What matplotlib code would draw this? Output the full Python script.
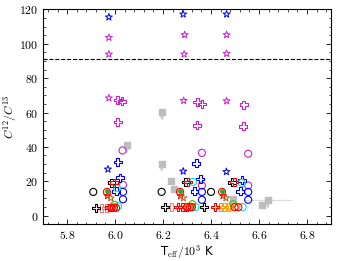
# C12/C13 ratio against effective temperature

import numpy as np
import matplotlib.pyplot as plt
from matplotlib.ticker import MultipleLocator, FuncFormatter

plt.rcParams['mathtext.fontset'] = 'cm'
plt.rcParams['font.size'] = 7

# data
blue_star_x = [5.974, 6.284, 6.465, 5.970, 6.284, 6.464]
blue_star_y = [115.5, 117.2, 117.2, 27.0, 25.8, 25.5]

mag_star_x = [5.974, 5.974, 6.290, 6.288, 6.465, 6.465, 5.974, 6.286, 6.465]
mag_star_y = [103.6, 93.9, 105.2, 93.9, 105.2, 94.3, 68.4, 66.9, 66.7]

mag_plus_x = [6.011, 6.029, 6.343, 6.362, 6.536, 6.011, 6.342, 6.535]
mag_plus_y = [67.3, 66.5, 66.1, 64.9, 64.5, 54.4, 52.5, 51.9]

mag_circ_x = [6.031, 6.033, 6.362, 6.362, 6.555, 6.555]
mag_circ_y = [37.9, 17.9, 36.5, 17.5, 36.0, 17.5]

blue_plus_x = [6.011, 6.020, 6.005, 6.339, 6.355, 6.331, 6.529, 6.522]
blue_plus_y = [31.1, 22.0, 14.2, 30.5, 21.4, 14.2, 20.6, 14.2]

blue_circ_x = [6.033, 6.033, 6.362, 6.362, 6.555, 6.555]
blue_circ_y = [13.8, 9.5, 13.8, 9.2, 13.8, 9.2]

cyan_circ_x = [6.008, 6.012, 6.325, 6.335, 6.528, 6.532]
cyan_circ_y = [16.0, 5.5, 19.6, 5.0, 19.0, 5.0]

black_circ_x = [5.909, 6.194, 6.400]
black_circ_y = [13.8, 13.8, 13.8]

black_plus_x = [5.985, 6.294, 6.487, 5.920, 6.208, 6.371]
black_plus_y = [19.1, 19.6, 19.4, 4.5, 4.9, 4.9]

red_plus_x = [5.996, 6.304, 6.497, 5.975, 5.985, 6.262, 6.280, 6.298, 6.416]
red_plus_y = [19.1, 19.6, 19.6, 4.7, 4.7, 4.9, 4.9, 4.9, 4.9]

salmon_plus_x = [5.944, 5.963, 6.236, 6.440]
salmon_plus_y = [4.5, 4.5, 4.9, 4.9]

orange_plus_x = [6.455, 6.472]
orange_plus_y = [4.9, 4.9]

red_circ_x = [5.966, 6.271, 6.446, 5.985, 5.995, 6.004, 6.300, 6.312, 6.320, 6.498, 6.514]
red_circ_y = [13.8, 13.8, 13.8, 4.5, 4.5, 4.5, 4.9, 4.9, 4.9, 4.9, 4.9]

orange_circ_x = [5.990, 6.306, 6.318, 6.480, 6.505]
orange_circ_y = [5.2, 5.2, 5.2, 5.2, 5.2]

green_circ_x = [5.998, 6.322, 6.492]
green_circ_y = [6.5, 6.8, 6.8]

green_dot_x = [5.966, 6.271, 6.446]
green_dot_y = [14.6, 14.6, 14.6]

red_star_x = [5.968, 6.273, 6.450]
red_star_y = [11.5, 11.5, 11.5]

brown_star_x = [5.982, 6.285, 6.462]
brown_star_y = [10.2, 10.2, 10.2]

# grey squares, the ones with arrows are upper limits
grey_x = [6.196, 6.049, 6.194, 6.235, 6.246, 6.491, 6.637, 6.614]
grey_y = [60.1, 40.8, 30.3, 20.2, 15.5, 9.9, 8.9, 6.0]
grey_lim = [True, True, True, False, False, False, True, False]
grey_xerr = [0, 0, 0, 0, 0, 0, 0.1, 0]

fig = plt.figure(figsize=(3.37, 2.61), dpi=100)
ax = fig.add_axes([0.128, 0.141, 0.854, 0.823])

ax.axhline(91, color='k', ls='--', lw=0.8)

grey = '#bdbdbd'
for gx, gy, lim, xe in zip(grey_x, grey_y, grey_lim, grey_xerr):
    if xe:
        ax.errorbar(gx, gy, xerr=xe, fmt='none', ecolor='#dddddd', elinewidth=0.9, zorder=1)
    if lim:
        ax.annotate('', xy=(gx, gy - 6.5), xytext=(gx, gy),
                    arrowprops=dict(arrowstyle='-|>', color='#d0d0d0', lw=0.9,
                                    mutation_scale=5), zorder=1)
ax.scatter(grey_x, grey_y, marker='s', s=20, color=grey, zorder=2)

def hollow(x, y, m, c, s, lw=0.8, z=3):
    ax.scatter(x, y, marker=m, s=s, facecolors='none', edgecolors=c, linewidths=lw, zorder=z)

hollow(blue_star_x, blue_star_y, '*', 'b', 28, 0.7)
hollow(mag_star_x, mag_star_y, '*', '#cc22cc', 28, 0.7)
hollow(mag_plus_x, mag_plus_y, 'P', '#cc22cc', 32)
hollow(mag_circ_x, mag_circ_y, 'o', '#cc22cc', 26)
hollow(blue_plus_x, blue_plus_y, 'P', 'b', 32)
hollow(blue_circ_x, blue_circ_y, 'o', 'b', 26)
hollow(cyan_circ_x, cyan_circ_y, 'o', '#00e5ee', 26)
hollow(black_circ_x, black_circ_y, 'o', 'k', 26)
hollow(salmon_plus_x, salmon_plus_y, 'P', '#f08080', 32)
hollow(orange_plus_x, orange_plus_y, 'P', '#ffa500', 32)
hollow(black_plus_x, black_plus_y, 'P', 'k', 32)
hollow(red_plus_x, red_plus_y, 'P', 'r', 32)
hollow(orange_circ_x, orange_circ_y, 'o', '#ffa500', 26)
hollow(green_circ_x, green_circ_y, 'o', '#22cc22', 22)
hollow(red_circ_x, red_circ_y, 'o', 'r', 26)
ax.scatter(green_dot_x, green_dot_y, marker='o', s=6, color='#22aa22', zorder=4)
hollow(red_star_x, red_star_y, '*', 'r', 28, 0.7)
hollow(brown_star_x, brown_star_y, '*', '#b5651d', 28, 0.7)

ax.set_xlim(5.7, 6.9)
ax.set_ylim(-5, 120)
ax.xaxis.set_major_locator(MultipleLocator(0.2))
ax.xaxis.set_minor_locator(MultipleLocator(0.04))
ax.yaxis.set_major_locator(MultipleLocator(20))
ax.yaxis.set_minor_locator(MultipleLocator(5))
ax.xaxis.set_major_formatter(FuncFormatter(lambda v, p: '$%.1f$' % v))
ax.yaxis.set_major_formatter(FuncFormatter(lambda v, p: '$%d$' % round(v)))
ax.tick_params(which='both', direction='in', top=True, right=True, labelsize=8.5)
ax.tick_params(which='major', length=3.5, width=0.6)
ax.tick_params(which='minor', length=1.8, width=0.5)
for sp in ax.spines.values():
    sp.set_linewidth(0.8)

ax.set_xlabel(r'T$_{\rm eff}/10^3$ K', fontsize=8.5, labelpad=1)
ax.set_ylabel(r'$C^{12}/C^{13}$', fontsize=8.5, labelpad=0)

fig.savefig('out.png', dpi=100)
